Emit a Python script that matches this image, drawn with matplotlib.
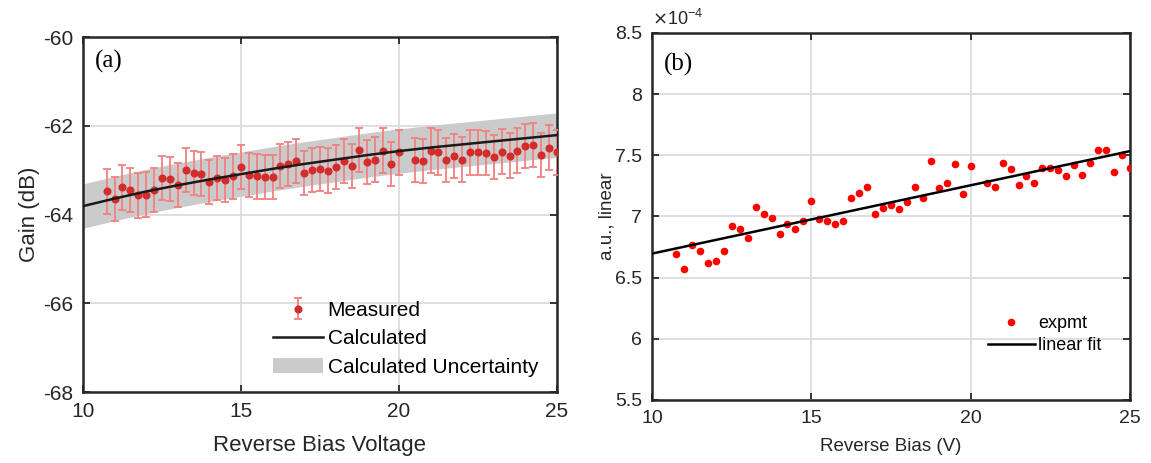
import numpy as np
import matplotlib
matplotlib.use("Agg")
import matplotlib.pyplot as plt
from matplotlib.patches import Patch
from matplotlib.ticker import FuncFormatter

plt.rcParams['font.family'] = ['Liberation Sans', 'DejaVu Sans']
plt.rcParams['axes.unicode_minus'] = False

# (a) measured gain vs reverse bias
bias_a = [10.75, 11.0, 11.25, 11.5, 11.75, 12.0, 12.25, 12.5, 12.75, 13.0,
          13.25, 13.5, 13.75, 14.0, 14.25, 14.5, 14.75, 15.0, 15.25, 15.5,
          15.75, 16.0, 16.25, 16.5, 16.75, 17.0, 17.25, 17.5, 17.75, 18.0,
          18.25, 18.5, 18.75, 19.0, 19.25, 19.5, 19.75, 20.0, 20.5, 20.75,
          21.0, 21.25, 21.5, 21.75, 22.0, 22.25, 22.5, 22.75, 23.0, 23.25,
          23.5, 23.75, 24.0, 24.25, 24.5, 24.75, 25.0]
gain_meas = [-63.48, -63.65, -63.39, -63.45, -63.57, -63.55, -63.45, -63.18, -63.20, -63.33,
             -62.99, -63.06, -63.09, -63.27, -63.17, -63.22, -63.14, -62.93, -63.11, -63.14,
             -63.16, -63.15, -62.91, -62.86, -62.80, -63.06, -63.00, -62.97, -63.01, -62.93,
             -62.79, -62.91, -62.54, -62.81, -62.76, -62.56, -62.86, -62.60, -62.77, -62.79,
             -62.56, -62.60, -62.77, -62.68, -62.76, -62.60, -62.60, -62.62, -62.70, -62.58,
             -62.67, -62.56, -62.45, -62.43, -62.66, -62.49, -62.60]
gain_err = 0.5

bias_calc = [10, 11, 12, 13, 14, 15, 16, 17, 18, 19, 20, 21, 22, 23, 24, 25]
gain_calc = [-63.81, -63.64, -63.48, -63.34, -63.21, -63.09, -62.97, -62.86,
             -62.76, -62.66, -62.57, -62.49, -62.42, -62.35, -62.28, -62.21]
calc_unc = 0.5

# (b) response (x1e-4) vs reverse bias
bias_b = bias_a
resp_b = [6.69, 6.57, 6.77, 6.72, 6.62, 6.64, 6.72, 6.92, 6.90, 6.82,
          7.08, 7.02, 6.99, 6.86, 6.94, 6.90, 6.96, 7.13, 6.98, 6.96,
          6.94, 6.96, 7.15, 7.19, 7.24, 7.02, 7.07, 7.09, 7.06, 7.12,
          7.24, 7.15, 7.45, 7.23, 7.27, 7.43, 7.18, 7.41, 7.27, 7.24,
          7.44, 7.39, 7.26, 7.33, 7.27, 7.40, 7.40, 7.38, 7.33, 7.42,
          7.34, 7.44, 7.54, 7.54, 7.36, 7.50, 7.40]

TXT = '#262626'
GRID = '#dcdcdc'


def style_axes(ax, size):
    ax.set_xlim(10, 25)
    ax.set_xticks([10, 15, 20, 25])
    ax.grid(True, color=GRID, lw=1.3)
    ax.set_axisbelow(True)
    ax.tick_params(direction='in', top=True, right=True, length=5, width=1.3,
                   labelsize=size, colors=TXT, pad=7)
    for s in ax.spines.values():
        s.set_linewidth(1.8)
        s.set_color(TXT)


fig = plt.figure(figsize=(11.51, 4.63), dpi=100)

# ---- (a) ----
ax1 = fig.add_axes([0.0721, 0.1533, 0.4118, 0.7667])
calc = np.array(gain_calc)
ax1.fill_between(bias_calc, calc - calc_unc, calc + calc_unc, color='#cbcbcb', lw=0, zorder=1)
eb = ax1.errorbar(bias_a, gain_meas, yerr=gain_err, fmt='o', ms=4.8, color='#d42b2b',
                  ecolor='#f28080', elinewidth=1.3, capsize=3, capthick=1.3, zorder=3)
ln, = ax1.plot(bias_calc, gain_calc, color='#1a1a1a', lw=1.8, zorder=4)
ax1.set_ylim(-68, -60)
ax1.set_yticks([-68, -66, -64, -62, -60])
style_axes(ax1, 15)
ax1.set_xlabel('Reverse Bias Voltage', fontsize=16, color=TXT, labelpad=10)
ax1.set_ylabel('Gain (dB)', fontsize=16, color=TXT, labelpad=2)
ax1.text(0.025, 0.93, '(a)', transform=ax1.transAxes, fontsize=18,
         family='Liberation Serif', va='center')
patch = Patch(facecolor='#cbcbcb', edgecolor='none')
ax1.legend([eb, ln, patch], ['Measured', 'Calculated', 'Calculated Uncertainty'],
           loc='lower right', bbox_to_anchor=(1.0, -0.01), frameon=False, fontsize=15,
           handlelength=2.4, handletextpad=0.25, labelspacing=0.45)

# ---- (b) ----
ax2 = fig.add_axes([0.5665, 0.1361, 0.4153, 0.7927])
ax2.plot(bias_b, resp_b, 'o', color='#ff0000', ms=5.5, mec='none', zorder=3, label='expmt')
k, b = np.polyfit(bias_b, resp_b, 1)
xf = np.array([10, 25])
ax2.plot(xf, k * xf + b, color='black', lw=1.8, zorder=4, label='linear fit')
ax2.set_ylim(5.5, 8.5)
ax2.set_yticks([5.5, 6, 6.5, 7, 7.5, 8, 8.5])
ax2.yaxis.set_major_formatter(FuncFormatter(lambda v, p: '%g' % v))
style_axes(ax2, 14)
ax2.set_xlabel('Reverse Bias (V)', fontsize=13.5, color=TXT, labelpad=8)
ax2.set_ylabel('a.u., linear', fontsize=13.5, color=TXT, labelpad=0)
ax2.text(0.0, 1.012, r'$\times$10$^{\mathregular{-4}}$', transform=ax2.transAxes,
         fontsize=13, color=TXT, va='bottom', ha='left')
ax2.text(0.025, 0.915, '(b)', transform=ax2.transAxes, fontsize=18,
         family='Liberation Serif', va='center')
ax2.legend(loc='lower right', bbox_to_anchor=(0.975, 0.08), frameon=False, fontsize=13,
           handlelength=2.6, handletextpad=0.2, labelspacing=0.3)

fig.savefig('out.png', dpi=100)
